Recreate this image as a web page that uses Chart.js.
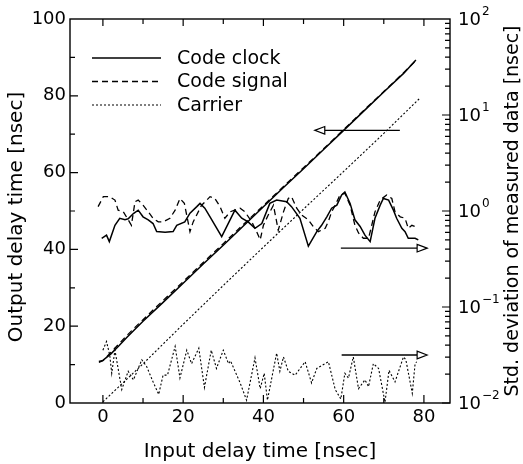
<!DOCTYPE html>
<html>
<head>
<meta charset="utf-8">
<script src="https://cdn.jsdelivr.net/npm/chart.js@4.4.0/dist/chart.umd.min.js"></script>
<style>
  html, body { margin: 0; padding: 0; background: #fff; }
  #wrap { width: 523px; height: 464px; }
</style>
</head>
<body>
<div id="wrap"><canvas id="chart" width="523" height="464"></canvas></div>
<script>
// tick labels
const xTicks = [0, 20, 40, 60, 80];
const yTicks = [0, 20, 40, 60, 80, 100];
const y2Exponents = [-2, -1, 0, 1, 2];

// output delay time (left axis)
const clockOutX = [-1, 0, 2, 4, 6, 8, 10, 15, 20, 25, 30, 35, 40, 45, 50, 55, 60, 65, 70, 75, 78];
const clockOutY = [10.8, 11.1, 12.8, 14.9, 17.1, 19.2, 21.3, 26.2, 31.2, 36.2, 41.1, 46.1, 51.1, 56.1, 61.0, 66.0, 71.0, 76.0, 81.0, 85.9, 89.3];
const signalOutX = [-1, 0, 2, 4, 6, 8, 10, 15, 20, 25, 30, 35, 40, 45, 50, 55, 60, 65, 70, 75, 78];
const signalOutY = [10.6, 11.0, 13.2, 15.4, 17.6, 19.7, 21.7, 26.7, 31.6, 36.6, 41.5, 46.5, 51.4, 56.4, 61.3, 66.2, 71.2, 76.2, 81.1, 86.1, 89.2];
const carrierOutX = [0, 10, 20, 30, 40, 50, 60, 70, 79];
const carrierOutY = [0.3, 10.2, 20.5, 30.6, 40.6, 50.5, 60.3, 70.2, 79.4];

// std. deviation of measured data (right axis, log)
const clockStdX = [-0.3, 0.9, 1.6, 3.0, 4.2, 5.5, 6.3, 7.6, 8.8, 10.0, 11.3, 12.5, 13.4, 15.5, 17.5, 18.4, 20.4, 21.7, 23.4, 24.2,
  25.4, 26.7, 29.6, 32.9, 34.6, 36.2, 37.9, 39.6, 41.6, 43.3, 45.8, 47.0, 49.1, 51.2, 53.3, 54.5, 55.8, 57.0,
  58.3, 59.5, 60.3, 61.6, 62.8, 64.1, 65.3, 66.6, 67.8, 69.1, 69.9, 71.2, 72.4, 73.2, 74.5, 75.3, 76.1, 77.8, 78.6];
const clockStdY = [0.52, 0.56, 0.48, 0.71, 0.84, 0.81, 0.83, 0.94, 1.02, 0.87, 0.81, 0.74, 0.61, 0.60, 0.61, 0.71, 0.77, 0.95, 1.11, 1.20,
  1.07, 0.87, 0.54, 1.02, 0.84, 0.77, 0.66, 0.74, 1.20, 1.30, 1.25, 1.11, 0.84, 0.43, 0.61, 0.71, 0.87, 1.07,
  1.15, 1.47, 1.58, 1.20, 0.81, 0.69, 0.56, 0.48, 0.84, 1.15, 1.35, 1.30, 1.02, 0.84, 0.66, 0.61, 0.52, 0.52, 0.50];
const signalStdX = [-1.2, 0.1, 1.7, 3.0, 3.8, 5.1, 6.3, 7.1, 8.0, 8.8, 10.0, 11.3, 12.5, 13.8, 15.0, 16.7, 18.0, 19.2, 20.3, 21.7,
  22.5, 24.6, 25.9, 26.7, 27.9, 29.2, 30.4, 31.7, 34.2, 35.4, 37.1, 38.3, 39.2, 40.0, 41.2, 42.5, 43.3, 43.7, 45.0, 46.2,
  47.0, 48.3, 49.5, 51.2, 52.4, 53.7, 55.4, 56.2, 57.0, 57.9, 59.1, 60.3, 61.6, 62.8, 63.7, 64.9, 66.2, 67.0, 67.8, 69.1,
  70.7, 72.0, 72.8, 74.1, 75.3, 76.1, 77.0, 77.8];
const signalStdY = [1.11, 1.41, 1.41, 1.30, 1.02, 0.98, 0.81, 0.71, 1.25, 1.30, 1.15, 0.98, 0.84, 0.77, 0.77, 0.84, 1.02, 1.35, 1.20, 0.61,
  0.77, 1.15, 1.30, 1.41, 1.35, 1.11, 0.84, 0.98, 1.07, 0.98, 0.77, 0.61, 0.50, 0.71, 0.91, 1.15, 0.77, 0.63, 0.98, 1.35,
  1.41, 1.07, 0.91, 0.81, 0.69, 0.61, 0.66, 0.78, 0.98, 1.15, 1.47, 1.53, 1.15, 0.71, 0.59, 0.52, 0.52, 0.71, 0.98, 1.30,
  1.47, 1.35, 0.98, 0.87, 0.84, 0.66, 0.71, 0.69];
const carrierStdX = [0, 0.9, 1.7, 2.2, 3.0, 4.7, 6.3, 7.6, 9.7, 10.9, 12.5, 13.9, 15.0, 16.1, 18.0, 19.2, 20.9, 22.1, 23.9, 25.3,
  27.0, 28.3, 30.0, 31.3, 31.8, 34.2, 35.8, 37.9, 39.2, 40.2, 41.0, 43.3, 44.1, 45.0, 46.2, 47.9, 50.4, 52.0, 53.3, 56.2,
  57.9, 59.3, 60.3, 61.2, 62.4, 63.7, 65.3, 66.2, 67.4, 68.7, 70.3, 71.3, 72.8, 74.9, 75.5, 77.1, 77.8, 78.2];
const carrierStdY = [0.0355, 0.0437, 0.0316, 0.0204, 0.0355, 0.0138, 0.0214, 0.0174, 0.0282, 0.0240,
  0.0166, 0.0123, 0.0195, 0.0195, 0.0389, 0.0182, 0.0355, 0.0257, 0.0372, 0.0145,
  0.0355, 0.0229, 0.0355, 0.0257, 0.0275, 0.0162, 0.0107, 0.0295, 0.0141, 0.0204,
  0.0107, 0.0331, 0.0214, 0.0302, 0.0214, 0.0195, 0.0269, 0.0162, 0.0229, 0.0269,
  0.0138, 0.0110, 0.0204, 0.0182, 0.0302, 0.0141, 0.0174, 0.0148, 0.0257, 0.0229,
  0.0102, 0.0219, 0.0166, 0.0302, 0.0282, 0.0126, 0.0257, 0.0269];

// arrows showing which axis each group belongs to
const arrowFrom = [74, 59.3, 59.5];
const arrowTo = [52.8, 80.8, 80.8];
const arrowLevel = [71, 0.41, 0.0316];
const arrowAxis = ['y', 'y2', 'y2'];

const legendLabels = ['Code clock', 'Code signal', 'Carrier'];

const FONT = "'DejaVu Sans', 'Liberation Sans', sans-serif";
const INK = '#000';

function pts(xs, ys) {
    return xs.map((x, i) => ({ x: x, y: ys[i] }));
}

const styles = [
    { borderWidth: 1.5, borderDash: [] },
    { borderWidth: 1.3, borderDash: [6, 4] },
    { borderWidth: 1.1, borderDash: [2, 2] }
];

function lineSet(label, data, axis, style) {
    return {
        label: label,
        data: data,
        yAxisID: axis,
        borderColor: INK,
        borderWidth: style.borderWidth,
        borderDash: style.borderDash,
        pointRadius: 0,
        tension: 0,
        fill: false
    };
}

const decorations = {
    id: 'decorations',
    afterDraw(chart) {
        const ctx = chart.ctx;
        const a = chart.chartArea;
        const sx = chart.scales.x, sy = chart.scales.y, sr = chart.scales.y2;
        ctx.save();
        ctx.strokeStyle = INK;
        ctx.fillStyle = INK;

        // frame
        ctx.lineWidth = 1.4;
        ctx.strokeRect(a.left, a.top, a.right - a.left, a.bottom - a.top);

        // inward ticks
        ctx.lineWidth = 1.2;
        ctx.beginPath();
        for (let v = 0; v <= 80; v += 10) {
            const px = sx.getPixelForValue(v);
            const len = v % 20 === 0 ? 8 : 5;
            ctx.moveTo(px, a.bottom); ctx.lineTo(px, a.bottom - len);
            ctx.moveTo(px, a.top); ctx.lineTo(px, a.top + (v % 20 === 0 ? 7 : 5));
        }
        for (let v = 10; v < 100; v += 10) {
            const py = sy.getPixelForValue(v);
            const len = v % 20 === 0 ? 8 : 5;
            ctx.moveTo(a.left, py); ctx.lineTo(a.left + len, py);
        }
        for (let e = -2; e < 2; e++) {
            for (let m = 1; m < 10; m++) {
                const py = sr.getPixelForValue(m * Math.pow(10, e));
                const len = m === 1 ? 8 : 5;
                ctx.moveTo(a.right, py); ctx.lineTo(a.right - len, py);
            }
        }
        ctx.stroke();

        // right axis labels 10^n
        ctx.textBaseline = 'middle';
        ctx.textAlign = 'left';
        y2Exponents.forEach(e => {
            const py = sr.getPixelForValue(Math.pow(10, e));
            ctx.font = '18px ' + FONT;
            ctx.fillText('10', a.right + 8, py + 1);
            const w = ctx.measureText('10').width;
            ctx.font = '12px ' + FONT;
            ctx.fillText(e < 0 ? '\u2212' + Math.abs(e) : String(e), a.right + 9 + w, py - 7);
        });

        // axis titles
        ctx.font = '20px ' + FONT;
        ctx.textAlign = 'center';
        ctx.textBaseline = 'alphabetic';
        ctx.fillText('Input delay time [nsec]', (a.left + a.right) / 2, 457);
        ctx.save();
        ctx.translate(22, (a.top + a.bottom) / 2 + 6);
        ctx.rotate(-Math.PI / 2);
        ctx.fillText('Output delay time [nsec]', 0, 0);
        ctx.restore();
        ctx.save();
        ctx.translate(518, (a.top + a.bottom) / 2);
        ctx.rotate(-Math.PI / 2);
        ctx.font = '19px ' + FONT;
        ctx.fillText('Std. deviation of measured data [nsec]', 0, 0);
        ctx.restore();

        // legend
        ctx.font = '19px ' + FONT;
        ctx.textAlign = 'left';
        ctx.textBaseline = 'middle';
        legendLabels.forEach((lab, i) => {
            const ly = a.top + 39 + i * 23.5;
            ctx.lineWidth = styles[i].borderWidth;
            ctx.setLineDash(styles[i].borderDash);
            ctx.beginPath();
            ctx.moveTo(92, ly); ctx.lineTo(161, ly);
            ctx.stroke();
            ctx.setLineDash([]);
            ctx.fillText(lab, 177, ly + 1);
        });

        // arrows
        ctx.lineWidth = 1.4;
        arrowFrom.forEach((x0, i) => {
            const scale = chart.scales[arrowAxis[i]];
            const py = scale.getPixelForValue(arrowLevel[i]);
            const p0 = sx.getPixelForValue(x0);
            const p1 = sx.getPixelForValue(arrowTo[i]);
            const dir = p1 > p0 ? 1 : -1;
            const hl = 10, hw = 3.8;
            ctx.beginPath();
            ctx.moveTo(p0, py); ctx.lineTo(p1 - dir * hl, py);
            ctx.stroke();
            ctx.beginPath();
            ctx.moveTo(p1, py);
            ctx.lineTo(p1 - dir * hl, py - hw);
            ctx.lineTo(p1 - dir * hl, py + hw);
            ctx.closePath();
            ctx.fillStyle = '#fff';
            ctx.fill();
            ctx.lineWidth = 1.2;
            ctx.stroke();
            ctx.fillStyle = INK;
            ctx.lineWidth = 1.4;
        });
        ctx.restore();
    }
};

new Chart(document.getElementById('chart').getContext('2d'), {
    type: 'line',
    data: {
        datasets: [
            lineSet('Code clock', pts(clockOutX, clockOutY), 'y', styles[0]),
            lineSet('Code signal', pts(signalOutX, signalOutY), 'y', styles[1]),
            lineSet('Carrier', pts(carrierOutX, carrierOutY), 'y', styles[2]),
            lineSet('Code clock std', pts(clockStdX, clockStdY), 'y2', styles[0]),
            lineSet('Code signal std', pts(signalStdX, signalStdY), 'y2', styles[1]),
            lineSet('Carrier std', pts(carrierStdX, carrierStdY), 'y2', styles[2])
        ]
    },
    options: {
        responsive: false,
        animation: false,
        devicePixelRatio: 1,
        layout: { padding: { top: 19, left: 0, right: 0, bottom: 0 } },
        plugins: {
            legend: { display: false },
            tooltip: { enabled: false }
        },
        scales: {
            x: {
                type: 'linear',
                position: 'bottom',
                min: -8.2,
                max: 86.5,
                grid: { display: false, drawTicks: false },
                border: { display: false },
                afterBuildTicks: s => { s.ticks = xTicks.map(v => ({ value: v })); },
                afterFit: s => { s.height = 61; },
                ticks: {
                    padding: 4,
                    maxRotation: 0,
                    color: INK,
                    font: { family: FONT, size: 18 }
                }
            },
            y: {
                type: 'linear',
                position: 'left',
                min: 0,
                max: 100,
                grid: { display: false, drawTicks: false },
                border: { display: false },
                afterBuildTicks: s => { s.ticks = yTicks.map(v => ({ value: v })); },
                afterFit: s => { s.width = 70; },
                ticks: {
                    padding: 4,
                    color: INK,
                    font: { family: FONT, size: 18 }
                }
            },
            y2: {
                type: 'logarithmic',
                position: 'right',
                min: 0.01,
                max: 100,
                grid: { display: false, drawTicks: false },
                border: { display: false },
                afterBuildTicks: s => { s.ticks = y2Exponents.map(e => ({ value: Math.pow(10, e) })); },
                afterFit: s => { s.width = 73; },
                ticks: { display: false }
            }
        }
    },
    plugins: [decorations]
});
</script>
</body>
</html>
